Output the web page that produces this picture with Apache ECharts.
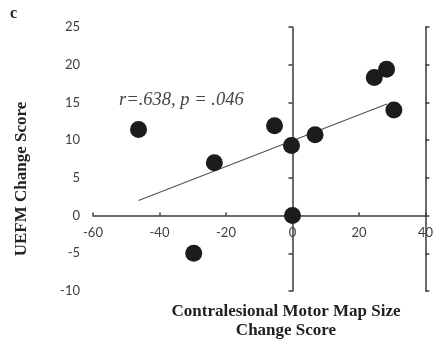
<!DOCTYPE html>
<html>
<head>
<meta charset="utf-8">
<script src="https://cdn.jsdelivr.net/npm/echarts@6/dist/echarts.min.js"></script>
<style>
  html, body { margin: 0; padding: 0; background: #fff; }
  #main { width: 436px; height: 343px; }
</style>
</head>
<body>
<div id="main"></div>
<script>
// motor map size change vs UEFM change
var mapChange = [-46.3, -29.7, -23.5, -5.4, -0.3, 0, 6.8, 24.6, 28.3, 30.5];
var uefmChange = [11.4, -5.0, 7.0, 11.9, 9.3, 0, 10.7, 18.3, 19.4, 14.0];
// fitted line endpoints
var fitX = [-46.3, 28.4];
var fitY = [2.0, 14.8];
var xTicks = { min: -60, max: 40, step: 20 };
var yTicks = { min: -10, max: 25, step: 5 };

var points = mapChange.map(function (x, i) { return [x, uefmChange[i]]; });
var fitLine = fitX.map(function (x, i) { return [x, fitY[i]]; });

var axisColor = "#3a3a3a";
var labelStyle = { color: "#404040", fontFamily: "Lato", fontSize: 13 };

// grid geometry, used to lift the x axis (with its labels) up to y = 0
var gridTop = 27, gridBottom = 52, chartH = 343;
var plotH = chartH - gridTop - gridBottom;
var zeroLift = plotH * (0 - yTicks.min) / (yTicks.max - yTicks.min);

var chart = echarts.init(document.getElementById("main"));
chart.setOption({
  animation: false,
  grid: { left: 93, right: 6, top: gridTop, bottom: gridBottom },
  xAxis: {
    type: "value",
    min: xTicks.min,
    max: xTicks.max,
    interval: xTicks.step,
    offset: -zeroLift,
    splitLine: { show: false },
    axisLine: { onZero: false, lineStyle: { color: axisColor, width: 1.5 } },
    axisTick: { inside: true, length: 3, lineStyle: { color: axisColor, width: 1.5 } },
    axisLabel: Object.assign({ margin: 11 }, labelStyle)
  },
  yAxis: [
    {
      // labels sit at the left edge
      type: "value",
      min: yTicks.min,
      max: yTicks.max,
      interval: yTicks.step,
      splitLine: { show: false },
      axisLine: { show: false, onZero: false },
      axisTick: { show: false },
      axisLabel: Object.assign({ margin: 13 }, labelStyle)
    },
    {
      // the visible line through x = 0, ticks on one side
      type: "value",
      min: yTicks.min,
      max: yTicks.max,
      interval: yTicks.step,
      splitLine: { show: false },
      axisLine: { onZero: true, lineStyle: { color: axisColor, width: 1.5 } },
      axisTick: { inside: true, length: 4, lineStyle: { color: axisColor, width: 1.5 } },
      axisLabel: { show: false }
    },
    {
      // ticks on the other side
      type: "value",
      min: yTicks.min,
      max: yTicks.max,
      interval: yTicks.step,
      splitLine: { show: false },
      axisLine: { onZero: true, lineStyle: { color: axisColor, width: 1.5 } },
      axisTick: { inside: false, length: 4, lineStyle: { color: axisColor, width: 1.5 } },
      axisLabel: { show: false }
    }
  ],
  series: [
    {
      type: "line",
      data: fitLine,
      symbol: "none",
      lineStyle: { color: "#555", width: 1.2 },
      z: 2
    },
    {
      type: "scatter",
      data: points,
      symbolSize: 17,
      itemStyle: { color: "#1c1c1c", opacity: 1 },
      z: 3
    }
  ],
  graphic: [
    {
      type: "text", x: 10, y: 6,
      style: { text: "c", font: "bold 16px 'Liberation Serif'", fill: "#222" }
    },
    {
      type: "text", x: 119, y: 91,
      style: { text: "r=.638, p = .046", font: "italic 18.5px 'Liberation Serif'", fill: "#444" }
    },
    {
      type: "text", x: 22, y: 179, rotation: Math.PI / 2,
      style: { text: "UEFM Change Score", font: "bold 17px 'Liberation Serif'", fill: "#222",
               align: "center", verticalAlign: "middle" }
    },
    {
      type: "text", x: 286, y: 302,
      style: { text: "Contralesional Motor Map Size\nChange Score", font: "bold 17px 'Liberation Serif'",
               fill: "#222", align: "center", lineHeight: 19 }
    }
  ]
});
</script>
</body>
</html>
